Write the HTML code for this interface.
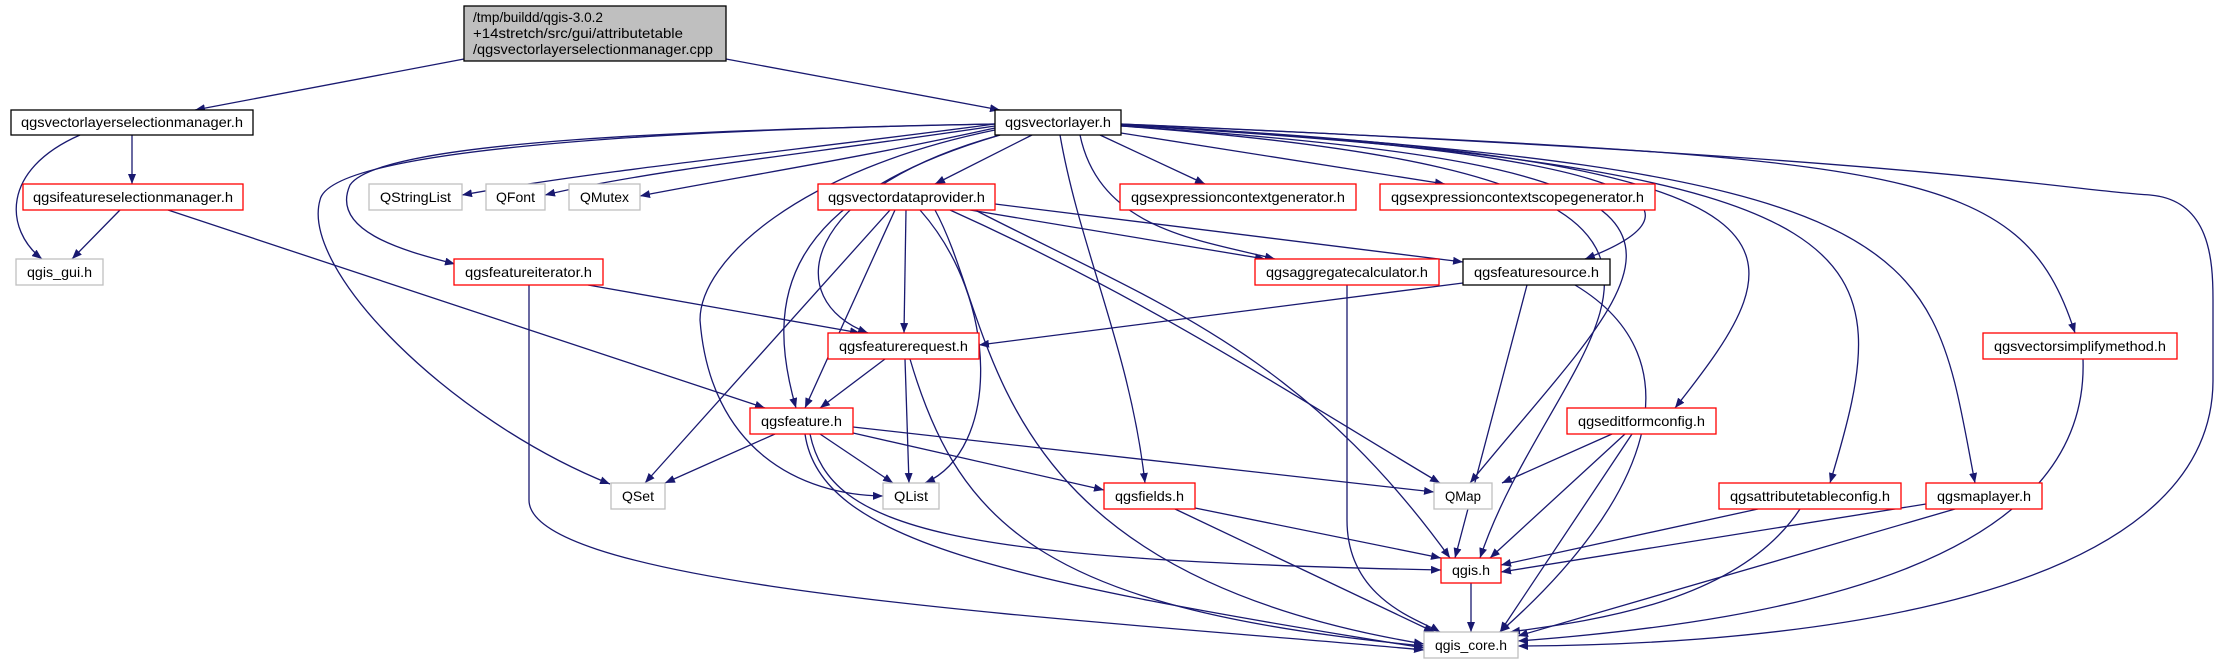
<!DOCTYPE html>
<html><head><meta charset="utf-8"><style>
html,body{margin:0;padding:0;background:#fff;}
svg{display:block;}
text{font-family:"Liberation Sans",sans-serif;font-size:14px;fill:#000;}
.e{fill:none;stroke:#191970;stroke-width:1.3;marker-end:url(#a);}
.r{fill:#fff;stroke:#ff0000;stroke-width:1.3;}
.b{fill:#fff;stroke:#000;stroke-width:1.3;}
.g{fill:#fff;stroke:#bfbfbf;stroke-width:1.3;}
</style></head><body>
<svg width="2221" height="664" viewBox="0 0 2221 664" xmlns="http://www.w3.org/2000/svg">
<defs><marker id="a" viewBox="0 0 10 8" refX="10" refY="4" markerWidth="10" markerHeight="8" markerUnits="userSpaceOnUse" orient="auto"><path d="M0,0 L10,4 L0,8 z" fill="#191970"/></marker></defs>
<g>
<path class="e" d="M464,59 L195,110"/>
<path class="e" d="M726,59 L1000,110"/>
<path class="e" d="M132,135 L132,184"/>
<path class="e" d="M80,135 C0,170 5,230 42,259"/>
<path class="e" d="M120,210 L72,259"/>
<path class="e" d="M168,210 L765,408"/>
<path class="e" d="M995,124 C800,150 600,170 462,195"/>
<path class="e" d="M995,126 C800,155 650,170 545,195"/>
<path class="e" d="M995,128 C850,160 720,180 640,196"/>
<path class="e" d="M1032,135 L935,184"/>
<path class="e" d="M1100,135 L1205,184"/>
<path class="e" d="M1121,133 L1445,184"/>
<path class="e" d="M995,124 C700,130 380,140 350,185 C330,230 400,250 455,264"/>
<path class="e" d="M995,124 C650,130 330,150 320,200 C300,270 450,420 610,484"/>
<path class="e" d="M995,130 C800,170 700,260 700,320 C710,450 800,495 883,496"/>
<path class="e" d="M1000,135 C780,200 765,300 796,408"/>
<path class="e" d="M1000,135 C800,190 780,300 868,333"/>
<path class="e" d="M1080,135 C1100,230 1200,240 1275,259"/>
<path class="e" d="M1121,125 C1600,150 1740,200 1585,259"/>
<path class="e" d="M1060,135 C1080,250 1130,350 1145,483"/>
<path class="e" d="M1121,126 C1800,170 1660,250 1470,483"/>
<path class="e" d="M1121,126 C1850,180 1560,320 1480,558"/>
<path class="e" d="M1121,125 C1850,160 1800,250 1675,408"/>
<path class="e" d="M1121,125 C1900,170 1900,250 1830,483"/>
<path class="e" d="M1121,125 C1950,170 1930,250 1975,483"/>
<path class="e" d="M1121,124 C1900,160 2020,160 2075,333"/>
<path class="e" d="M1121,124 C1950,160 2060,190 2150,195 C2210,200 2213,260 2213,300 L2213,380 C2213,600 1800,645 1518,646"/>
<path class="e" d="M890,210 L645,483"/>
<path class="e" d="M906,210 L904,333"/>
<path class="e" d="M895,210 L805,408"/>
<path class="e" d="M920,210 C1000,300 1000,450 925,483"/>
<path class="e" d="M970,210 L1265,259"/>
<path class="e" d="M995,204 L1463,262"/>
<path class="e" d="M975,210 C1150,300 1300,350 1450,558"/>
<path class="e" d="M950,210 C1150,300 1300,400 1440,483"/>
<path class="e" d="M935,210 C1000,330 980,570 1424,644"/>
<path class="e" d="M588,285 L860,333"/>
<path class="e" d="M529,285 L529,500 C529,590 1100,620 1424,650"/>
<path class="e" d="M1463,283 L979,345"/>
<path class="e" d="M1527,285 L1455,558"/>
<path class="e" d="M1575,285 C1700,360 1650,500 1500,632"/>
<path class="e" d="M1347,285 L1347,520 C1347,600 1420,620 1440,632"/>
<path class="e" d="M885,359 L820,408"/>
<path class="e" d="M905,359 L909,483"/>
<path class="e" d="M910,359 C960,530 1050,610 1424,646"/>
<path class="e" d="M775,434 L665,483"/>
<path class="e" d="M820,434 L893,483"/>
<path class="e" d="M853,433 L1104,490"/>
<path class="e" d="M853,427 L1434,492"/>
<path class="e" d="M810,434 C830,530 950,560 1441,570"/>
<path class="e" d="M805,434 C820,540 1000,580 1424,648"/>
<path class="e" d="M1195,508 L1441,558"/>
<path class="e" d="M1175,509 L1434,632"/>
<path class="e" d="M1612,434 L1502,483"/>
<path class="e" d="M1625,434 L1490,558"/>
<path class="e" d="M1632,434 L1500,632"/>
<path class="e" d="M1758,509 L1501,565"/>
<path class="e" d="M1800,509 C1740,600 1600,620 1510,632"/>
<path class="e" d="M1926,504 L1501,572"/>
<path class="e" d="M1955,509 L1518,636"/>
<path class="e" d="M2083,359 C2090,560 1800,620 1518,641"/>
<path class="e" d="M1471,583 L1471,632"/>
</g>
<g>
<rect x="464" y="6" width="262" height="55" fill="#bfbfbf" stroke="#000" stroke-width="1.3"/>
<text x="473" y="22" textLength="130" lengthAdjust="spacingAndGlyphs">/tmp/buildd/qgis-3.0.2</text>
<text x="473" y="38" textLength="210" lengthAdjust="spacingAndGlyphs">+14stretch/src/gui/attributetable</text>
<text x="473" y="54" textLength="240" lengthAdjust="spacingAndGlyphs">/qgsvectorlayerselectionmanager.cpp</text>

<rect class="b" x="11" y="110" width="242" height="25"/><text x="21" y="127" textLength="222" lengthAdjust="spacingAndGlyphs">qgsvectorlayerselectionmanager.h</text>
<rect class="b" x="995" y="110" width="126" height="25"/><text x="1005" y="127" textLength="106" lengthAdjust="spacingAndGlyphs">qgsvectorlayer.h</text>
<rect class="r" x="23" y="184" width="220" height="26"/><text x="33" y="202" textLength="200" lengthAdjust="spacingAndGlyphs">qgsifeatureselectionmanager.h</text>
<rect class="g" x="16" y="259" width="87" height="26"/><text x="27" y="277" textLength="65" lengthAdjust="spacingAndGlyphs">qgis_gui.h</text>
<rect class="g" x="369" y="184" width="93" height="26"/><text x="380" y="202" textLength="71" lengthAdjust="spacingAndGlyphs">QStringList</text>
<rect class="g" x="486" y="184" width="59" height="26"/><text x="496" y="202" textLength="39" lengthAdjust="spacingAndGlyphs">QFont</text>
<rect class="g" x="569" y="184" width="71" height="26"/><text x="580" y="202" textLength="49" lengthAdjust="spacingAndGlyphs">QMutex</text>
<rect class="r" x="818" y="184" width="177" height="26"/><text x="828" y="202" textLength="157" lengthAdjust="spacingAndGlyphs">qgsvectordataprovider.h</text>
<rect class="r" x="1120" y="184" width="236" height="26"/><text x="1131" y="202" textLength="214" lengthAdjust="spacingAndGlyphs">qgsexpressioncontextgenerator.h</text>
<rect class="r" x="1380" y="184" width="275" height="26"/><text x="1391" y="202" textLength="253" lengthAdjust="spacingAndGlyphs">qgsexpressioncontextscopegenerator.h</text>
<rect class="r" x="454" y="259" width="149" height="26"/><text x="465" y="277" textLength="127" lengthAdjust="spacingAndGlyphs">qgsfeatureiterator.h</text>
<rect class="r" x="1255" y="259" width="184" height="26"/><text x="1266" y="277" textLength="162" lengthAdjust="spacingAndGlyphs">qgsaggregatecalculator.h</text>
<rect class="b" x="1463" y="259" width="147" height="26"/><text x="1474" y="277" textLength="125" lengthAdjust="spacingAndGlyphs">qgsfeaturesource.h</text>
<rect class="r" x="828" y="333" width="151" height="26"/><text x="839" y="351" textLength="129" lengthAdjust="spacingAndGlyphs">qgsfeaturerequest.h</text>
<rect class="r" x="1983" y="333" width="194" height="26"/><text x="1994" y="351" textLength="172" lengthAdjust="spacingAndGlyphs">qgsvectorsimplifymethod.h</text>
<rect class="r" x="750" y="408" width="103" height="26"/><text x="761" y="426" textLength="81" lengthAdjust="spacingAndGlyphs">qgsfeature.h</text>
<rect class="r" x="1567" y="408" width="149" height="26"/><text x="1578" y="426" textLength="127" lengthAdjust="spacingAndGlyphs">qgseditformconfig.h</text>
<rect class="g" x="611" y="483" width="54" height="26"/><text x="622" y="501" textLength="32" lengthAdjust="spacingAndGlyphs">QSet</text>
<rect class="g" x="883" y="483" width="56" height="26"/><text x="894" y="501" textLength="34" lengthAdjust="spacingAndGlyphs">QList</text>
<rect class="r" x="1104" y="483" width="91" height="26"/><text x="1115" y="501" textLength="69" lengthAdjust="spacingAndGlyphs">qgsfields.h</text>
<rect class="g" x="1434" y="483" width="58" height="26"/><text x="1445" y="501" textLength="36" lengthAdjust="spacingAndGlyphs">QMap</text>
<rect class="r" x="1719" y="483" width="182" height="26"/><text x="1730" y="501" textLength="160" lengthAdjust="spacingAndGlyphs">qgsattributetableconfig.h</text>
<rect class="r" x="1926" y="483" width="116" height="26"/><text x="1937" y="501" textLength="94" lengthAdjust="spacingAndGlyphs">qgsmaplayer.h</text>
<rect class="r" x="1441" y="558" width="60" height="25"/><text x="1452" y="575" textLength="38" lengthAdjust="spacingAndGlyphs">qgis.h</text>
<rect class="g" x="1424" y="632" width="94" height="26"/><text x="1435" y="650" textLength="72" lengthAdjust="spacingAndGlyphs">qgis_core.h</text>
</g>
</svg>
</body></html>
